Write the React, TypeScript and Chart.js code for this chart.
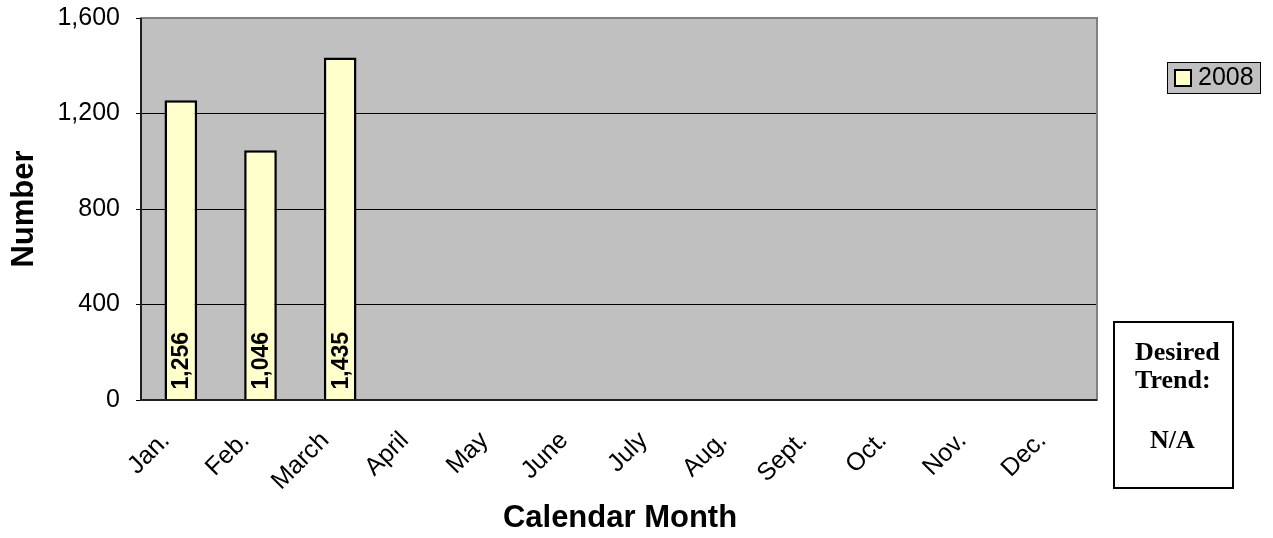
import React, { useEffect, useRef } from "react";
import { Chart, registerables } from "chart.js";

Chart.register(...registerables);

const categories = ["Jan.", "Feb.", "March", "April", "May", "June", "July", "Aug.", "Sept.", "Oct.", "Nov.", "Dec."];
const series2008: (number | null)[] = [1256, 1046, 1435, null, null, null, null, null, null, null, null, null];
const seriesName = "2008";
const yTickValues = [0, 400, 800, 1200, 1600];
const xAxisTitle = "Calendar Month";
const yAxisTitle = "Number";
const trendLines = ["Desired", "Trend:", "N/A"];

const W = 1273;
const H = 538;
const PLOT_LEFT = 141;
const PLOT_TOP = 18;
const PLOT_RIGHT = 1097;
const PLOT_BOTTOM = 400;

const fmt = (v: number) => v.toLocaleString("en-US");

const decor = {
  id: "decor",
  beforeDraw(chart: any) {
    const { ctx, chartArea: a } = chart;
    ctx.save();
    ctx.fillStyle = "#ffffff";
    ctx.fillRect(0, 0, W, H);
    ctx.fillStyle = "#C0C0C0";
    ctx.fillRect(a.left, a.top, a.right - a.left, a.bottom - a.top);
    ctx.restore();
  },
  afterDatasetsDraw(chart: any) {
    const { ctx, chartArea: a } = chart;
    ctx.save();
    ctx.strokeStyle = "#808080";
    ctx.lineWidth = 2;
    ctx.strokeRect(a.left, a.top, a.right - a.left, a.bottom - a.top);
    ctx.strokeStyle = "#000000";
    ctx.lineWidth = 1.5;
    ctx.beginPath();
    ctx.moveTo(a.left, a.top);
    ctx.lineTo(a.left, a.bottom);
    ctx.lineTo(a.right, a.bottom);
    ctx.stroke();
    const meta = chart.getDatasetMeta(0);
    ctx.fillStyle = "#000000";
    ctx.font = "bold 23px Arial, 'Liberation Sans', sans-serif";
    ctx.textAlign = "left";
    ctx.textBaseline = "middle";
    meta.data.forEach((el: any, i: number) => {
      const v = series2008[i];
      if (v == null) return;
      ctx.save();
      ctx.translate(el.x + 1, el.base - 10);
      ctx.rotate(-Math.PI / 2);
      ctx.fillText(fmt(v), 0, 0);
      ctx.restore();
    });
    ctx.restore();
  },
  afterDraw(chart: any) {
    const { ctx, chartArea: a } = chart;
    ctx.save();
    ctx.fillStyle = "#000000";
    ctx.font = "bold 31px Arial, 'Liberation Sans', sans-serif";
    ctx.textAlign = "center";
    ctx.textBaseline = "alphabetic";
    ctx.fillText(xAxisTitle, 620, 527);
    ctx.save();
    ctx.translate(33, (a.top + a.bottom) / 2);
    ctx.rotate(-Math.PI / 2);
    ctx.font = "bold 31px Arial, 'Liberation Sans', sans-serif";
    ctx.fillText(yAxisTitle, 0, 0);
    ctx.restore();
    // legend
    const lx = 1167, ly = 62, lw = 93, lh = 31;
    ctx.fillStyle = "#C0C0C0";
    ctx.fillRect(lx, ly, lw, lh);
    ctx.strokeStyle = "#000000";
    ctx.lineWidth = 1;
    ctx.strokeRect(lx + 0.5, ly + 0.5, lw, lh);
    ctx.fillStyle = "#FFFFCC";
    ctx.fillRect(lx + 8, ly + 8, 16, 16);
    ctx.lineWidth = 2;
    ctx.strokeRect(lx + 8, ly + 8, 16, 16);
    ctx.fillStyle = "#000000";
    ctx.font = "25px Arial, 'Liberation Sans', sans-serif";
    ctx.textAlign = "left";
    ctx.textBaseline = "middle";
    ctx.fillText(seriesName, lx + 31, ly + lh / 2 + 1);
    // desired trend box
    const bx = 1114, by = 322, bw = 119, bh = 166;
    ctx.fillStyle = "#ffffff";
    ctx.fillRect(bx, by, bw, bh);
    ctx.strokeStyle = "#000000";
    ctx.lineWidth = 2;
    ctx.strokeRect(bx, by, bw, bh);
    ctx.fillStyle = "#000000";
    ctx.font = "bold 26px 'Liberation Serif', 'Times New Roman', serif";
    ctx.textAlign = "left";
    ctx.textBaseline = "alphabetic";
    ctx.fillText(trendLines[0], 1135, 360);
    ctx.fillText(trendLines[1], 1135, 388);
    ctx.fillText(trendLines[2], 1150, 448);
    ctx.restore();
  },
};

export default function App() {
  const ref = useRef<HTMLCanvasElement | null>(null);
  useEffect(() => {
    if (!ref.current) return;
    const chart = new Chart(ref.current, {
      type: "bar",
      data: {
        labels: categories,
        datasets: [
          {
            label: seriesName,
            data: series2008 as any,
            backgroundColor: "#FFFFCC",
            borderColor: "#000000",
            borderWidth: 2.5,
            categoryPercentage: 1,
            barPercentage: 0.41,
          },
        ],
      },
      options: {
        responsive: false,
        animation: false,
        devicePixelRatio: 1,
        layout: { padding: { left: 0, top: PLOT_TOP, right: W - PLOT_RIGHT, bottom: 0 } },
        plugins: { legend: { display: false }, tooltip: { enabled: false }, title: { display: false } },
        scales: {
          x: {
            grid: { display: false, drawTicks: false },
            border: { display: false },
            ticks: {
              autoSkip: false,
              minRotation: 45,
              maxRotation: 45,
              padding: 26,
              labelOffset: -15,
              color: "#000000",
              font: { family: "Arial, 'Liberation Sans', sans-serif", size: 25 },
            },
            afterFit: (s: any) => {
              s.height = H - PLOT_BOTTOM;
              s.paddingLeft = 0;
              s.paddingRight = 0;
            },
          },
          y: {
            min: 0,
            max: 1600,
            grid: { color: "#000000", lineWidth: 1, drawTicks: true, tickLength: 5, tickColor: "#000000" },
            border: { display: false },
            afterBuildTicks: (s: any) => {
              s.ticks = yTickValues.map((v) => ({ value: v }));
            },
            ticks: {
              padding: 16,
              color: "#000000",
              font: { family: "Arial, 'Liberation Sans', sans-serif", size: 25 },
              callback: (v: any) => fmt(Number(v)),
            },
            afterFit: (s: any) => {
              s.width = PLOT_LEFT;
              s.paddingTop = 0;
              s.paddingBottom = 0;
            },
          },
        },
      },
      plugins: [decor],
    });
    return () => chart.destroy();
  }, []);
  return (
    <div style={{ position: "absolute", left: 0, top: 0, width: W, height: H, background: "#fff" }}>
      <canvas ref={ref} width={W} height={H} style={{ display: "block", width: W, height: H }} />
    </div>
  );
}
